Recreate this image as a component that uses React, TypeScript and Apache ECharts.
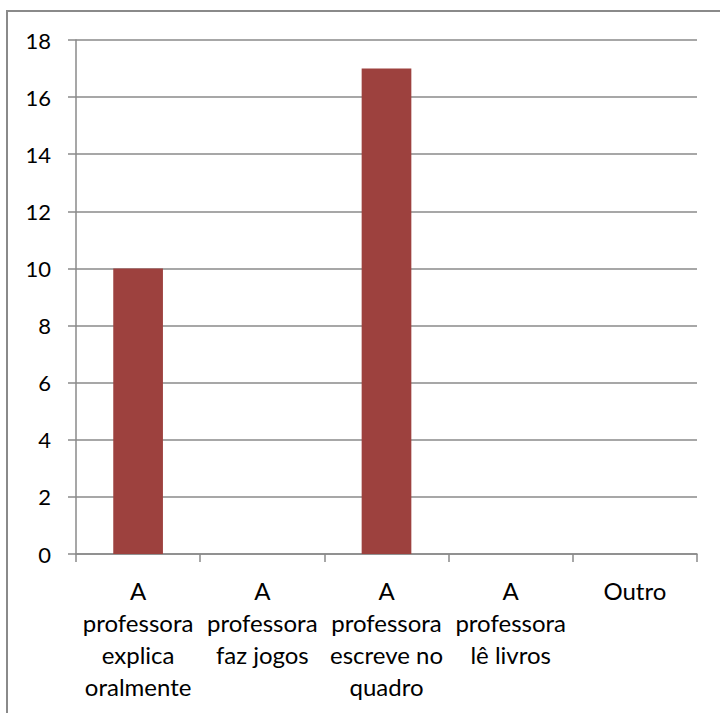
import React, { useEffect, useRef } from "react";
import * as echarts from "echarts";

const categories = [
  "A\nprofessora\nexplica\noralmente",
  "A\nprofessora\nfaz jogos",
  "A\nprofessora\nescreve no\nquadro",
  "A\nprofessora\nlê livros",
  "Outro",
];
const values = [10, 0, 17, 0, 0];
const yMin = 0;
const yMax = 18;
const yStep = 2;

export default function App() {
  const ref = useRef<HTMLDivElement>(null);
  useEffect(() => {
    if (!ref.current) return;
    const chart = echarts.init(ref.current, null, { renderer: "svg" });
    const font = "Lato, 'Open Sans', sans-serif";
    chart.setOption({
      animation: false,
      backgroundColor: "#ffffff",
      graphic: [
        {
          type: "rect",
          shape: { x: 7, y: 11, width: 800, height: 800 },
          style: { fill: "none", stroke: "#8a8a8a", lineWidth: 2 },
          silent: true,
        },
      ],
      grid: { left: 76, right: 23, top: 40, bottom: 159, containLabel: false },
      xAxis: {
        type: "category",
        data: categories,
        axisLine: { show: true, lineStyle: { color: "#8a8a8a", width: 1.5 } },
        axisTick: { show: true, alignWithLabel: false, interval: 0, length: 8, lineStyle: { color: "#8a8a8a", width: 1.5 } },
        axisLabel: {
          interval: 0,
          margin: 20,
          color: "#000",
          fontSize: 24,
          lineHeight: 32,
          fontFamily: font,
        },
      },
      yAxis: {
        type: "value",
        min: yMin,
        max: yMax,
        interval: yStep,
        axisLine: { show: true, lineStyle: { color: "#8a8a8a", width: 1.5 } },
        axisTick: { show: true, length: 8, lineStyle: { color: "#8a8a8a", width: 1.5 } },
        splitLine: { show: true, lineStyle: { color: "#8a8a8a", width: 1.5 } },
        axisLabel: { color: "#000", fontSize: 22, margin: 25, fontFamily: font },
      },
      series: [
        {
          type: "bar",
          data: values,
          barWidth: "40%",
          itemStyle: { color: "#9D413E" },
        },
      ],
    });
    return () => chart.dispose();
  }, []);
  return (
    <div
      ref={ref}
      style={{ position: "fixed", left: 0, top: 0, width: 720, height: 713 }}
    />
  );
}
